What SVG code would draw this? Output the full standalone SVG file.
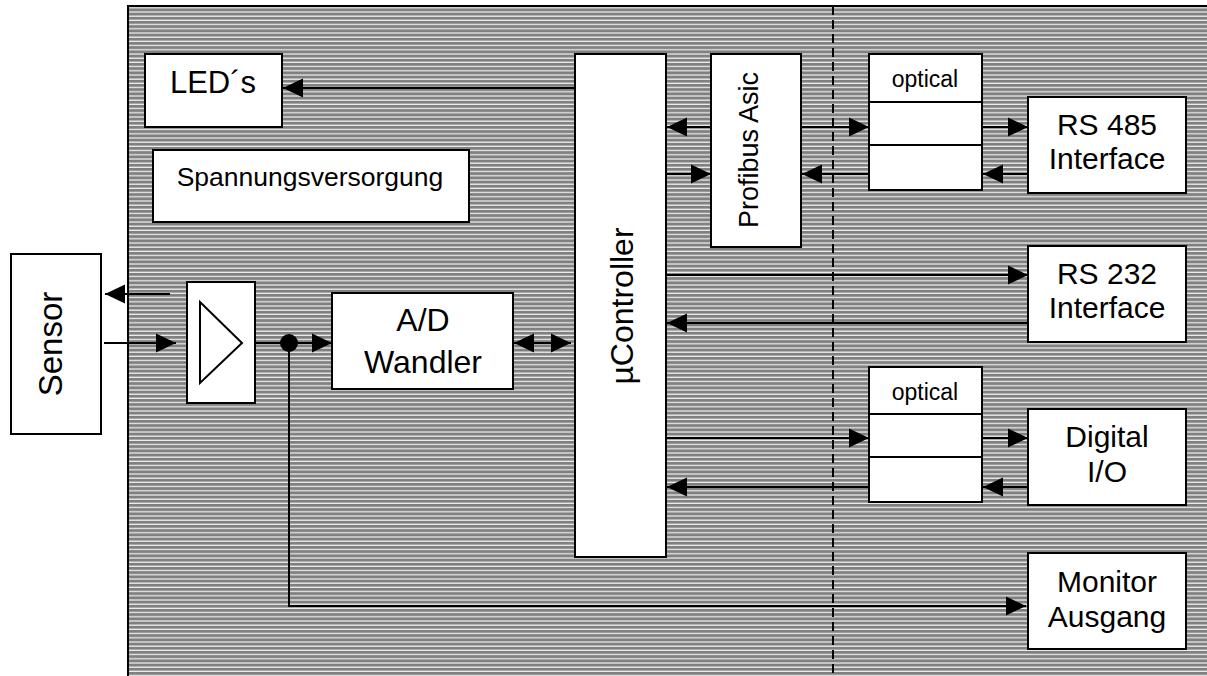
<svg xmlns="http://www.w3.org/2000/svg" width="1207" height="676" viewBox="0 0 1207 676">
<style>
.box{fill:#fff;stroke:#000;stroke-width:2}
.ln{fill:none;stroke:#000;stroke-width:2}
.t{font-family:"Liberation Sans",Arial,sans-serif;fill:#000;text-anchor:middle}
.l{font-size:30px}
.s{font-size:23px}
</style>
<defs>
<pattern id="hatch" patternUnits="userSpaceOnUse" x="0" y="0" width="10" height="4.2">
<rect x="0" y="0" width="10" height="4.2" fill="#808080"/>
<rect x="0" y="3" width="10" height="1.1" fill="#fff"/>
</pattern>
<marker id="arr" viewBox="0 0 20 20" refX="20" refY="10" markerWidth="20" markerHeight="20" markerUnits="userSpaceOnUse" orient="auto-start-reverse">
<path d="M0,0.5 L20,10 L0,19.5 Z" fill="#000"/>
</marker>
</defs>
<g id="background">
<rect x="128" y="6" width="1079" height="670" fill="url(#hatch)"/>
<path class="ln" d="M128,676 V6 H1207"/>
<line x1="833" y1="6" x2="833" y2="676" stroke="#000" stroke-width="2" stroke-dasharray="9,5"/>
</g>
<g id="connectors">
<line class="ln" x1="575" y1="88" x2="283" y2="88" marker-end="url(#arr)"/>
<line class="ln" x1="711" y1="127" x2="667" y2="127" marker-end="url(#arr)"/>
<line class="ln" x1="801" y1="127" x2="869" y2="127" marker-end="url(#arr)"/>
<line class="ln" x1="982" y1="127" x2="1028" y2="127" marker-end="url(#arr)"/>
<line class="ln" x1="1028" y1="174" x2="983" y2="174" marker-end="url(#arr)"/>
<line class="ln" x1="869" y1="174" x2="802" y2="174" marker-end="url(#arr)"/>
<line class="ln" x1="666" y1="174" x2="711" y2="174" marker-end="url(#arr)"/>
<line class="ln" x1="666" y1="275" x2="1028" y2="275" marker-end="url(#arr)"/>
<line class="ln" x1="1028" y1="323" x2="667" y2="323" marker-end="url(#arr)"/>
<line class="ln" x1="666" y1="438" x2="869" y2="438" marker-end="url(#arr)"/>
<line class="ln" x1="982" y1="438" x2="1028" y2="438" marker-end="url(#arr)"/>
<line class="ln" x1="1028" y1="487" x2="983" y2="487" marker-end="url(#arr)"/>
<line class="ln" x1="869" y1="487" x2="667" y2="487" marker-end="url(#arr)"/>
<line class="ln" x1="170" y1="294" x2="105" y2="294" marker-end="url(#arr)"/>
<line class="ln" x1="104" y1="343" x2="176" y2="343" marker-end="url(#arr)"/>
<line class="ln" x1="256" y1="343" x2="332" y2="343" marker-end="url(#arr)"/>
<line class="ln" x1="514" y1="343" x2="571" y2="343" marker-start="url(#arr)" marker-end="url(#arr)"/>
<polyline class="ln" points="289,343 289,606 1026,606" marker-end="url(#arr)"/>
<circle cx="289" cy="343" r="9" fill="#000"/>
</g>
<g id="leds">
<rect class="box" x="145" y="54" width="137" height="73"/>
<text class="t" style="font-size:31px" x="213" y="93">LED´s</text>
</g>
<g id="spannungsversorgung">
<rect class="box" x="153" y="150" width="316" height="72"/>
<text class="t" style="font-size:26.5px" x="310" y="186">Spannungsversorgung</text>
</g>
<g id="controller">
<rect class="box" x="575" y="54" width="91" height="503"/>
<text class="t" style="font-size:32px" transform="translate(633,306) rotate(-90)">µController</text>
</g>
<g id="profibus">
<rect class="box" x="711" y="54" width="90" height="193"/>
<text class="t" style="font-size:27px" transform="translate(758,150) rotate(-90)">Profibus Asic</text>
</g>
<g id="optical1">
<rect class="box" x="869" y="54" width="113" height="136"/>
<line class="ln" x1="869" y1="102" x2="982" y2="102"/>
<line class="ln" x1="869" y1="145" x2="982" y2="145"/>
<text class="t s" x="925" y="87">optical</text>
</g>
<g id="rs485">
<rect class="box" x="1028" y="97" width="158" height="96"/>
<text class="t l" x="1107" y="135">RS 485</text>
<text class="t l" x="1107" y="169">Interface</text>
</g>
<g id="rs232">
<rect class="box" x="1028" y="246" width="158" height="96"/>
<text class="t l" x="1107" y="284">RS 232</text>
<text class="t l" x="1107" y="318">Interface</text>
</g>
<g id="optical2">
<rect class="box" x="869" y="367" width="113" height="135"/>
<line class="ln" x1="869" y1="414" x2="982" y2="414"/>
<line class="ln" x1="869" y1="457" x2="982" y2="457"/>
<text class="t s" x="925" y="400">optical</text>
</g>
<g id="digital">
<rect class="box" x="1028" y="409" width="158" height="96"/>
<text class="t l" x="1107" y="447">Digital</text>
<text class="t l" x="1107" y="482">I/O</text>
</g>
<g id="monitor">
<rect class="box" x="1028" y="553" width="158" height="96"/>
<text class="t l" x="1107" y="592">Monitor</text>
<text class="t l" x="1107" y="627">Ausgang</text>
</g>
<g id="sensor">
<rect class="box" x="11" y="254" width="90" height="180"/>
<text class="t" style="font-size:33px" transform="translate(62,344) rotate(-90)">Sensor</text>
</g>
<g id="amplifier">
<rect class="box" x="187" y="282" width="68" height="121"/>
<polygon points="200,302 242,343 200,383" fill="#fff" stroke="#000" stroke-width="2"/>
</g>
<g id="adwandler">
<rect class="box" x="332" y="293" width="181" height="96"/>
<text class="t" style="font-size:32px" x="423" y="331">A/D</text>
<text class="t" style="font-size:32px" x="423" y="373">Wandler</text>
</g>
</svg>
